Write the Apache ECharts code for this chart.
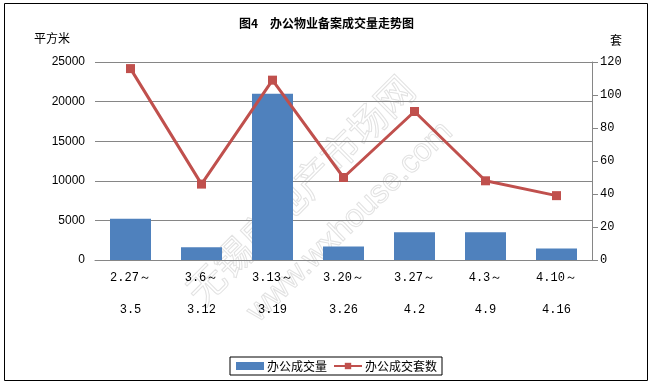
<!DOCTYPE html>
<html>
<head>
<meta charset="utf-8">
<script src="https://cdn.jsdelivr.net/npm/echarts@6/dist/echarts.min.js"></script>
<style>
html,body{margin:0;padding:0;background:#fff;}
#chart{width:653px;height:384px;}
</style>
</head>
<body>
<div id="chart"></div>
<script>
const title = '图4\u3000办公物业备案成交量走势图';
const periodStart = ['2.27～','3.6～','3.13～','3.20～','3.27～','4.3～','4.10～'];
const periodEnd = ['3.5','3.12','3.19','3.26','4.2','4.9','4.16'];
const areaValues = [5200, 1600, 21000, 1700, 3500, 3500, 1450];
const unitValues = [116, 46, 109, 50, 90, 48, 39];
const leftTicks = {min: 0, max: 25000, interval: 5000};
const rightTicks = {min: 0, max: 120, interval: 20};
const seriesNames = ['办公成交量', '办公成交套数'];
const axisNames = ['平方米', '套'];

const categories = periodStart.map((s, i) => s + '\n' + periodEnd[i]);
const chart = echarts.init(document.getElementById('chart'), null, {renderer: 'canvas'});
const gray = '#868686';
const cjk = '"Noto Sans CJK SC", "Noto Sans", sans-serif';

chart.setOption({
  backgroundColor: '#ffffff',
  animation: false,
  title: {
    text: title,
    left: 'center',
    top: 12,
    textStyle: {fontSize: 12, fontWeight: 'bold', color: '#000', fontFamily: cjk}
  },
  graphic: [
    {type: 'rect', shape: {x: 4.5, y: 3.5, width: 643, height: 377}, style: {fill: 'none', stroke: '#000', lineWidth: 1}, z: 100, silent: true},
    {type: 'text', x: 300, y: 190, rotation: Math.PI / 4, z: -1, silent: true,
     style: {text: '无锡房地产市场网', fontSize: 38, fontFamily: cjk, fill: 'rgba(0,0,0,0)', stroke: '#e2e2e2', lineWidth: 1, align: 'center', verticalAlign: 'middle'}},
    {type: 'text', x: 350, y: 222, rotation: Math.PI * 0.245, z: -1, silent: true,
     style: {text: 'www.wxhouse.com', fontSize: 32, fontFamily: '"Liberation Sans", sans-serif', fill: 'rgba(0,0,0,0)', stroke: '#e2e2e2', lineWidth: 1, align: 'center', verticalAlign: 'middle'}}
  ],
  grid: {left: 95, top: 62, width: 497, height: 198, containLabel: false},
  legend: {
    left: 230,
    top: 357,
    padding: [3, 5, 3, 6],
    itemGap: 6,
    itemWidth: 28,
    itemHeight: 8,
    borderColor: '#000',
    borderWidth: 1,
    textStyle: {fontSize: 12, color: '#000', fontFamily: cjk, padding: [0, 0, 0, -2]},
    data: [
      {name: seriesNames[0], icon: 'rect'},
      {name: seriesNames[1]}
    ]
  },
  xAxis: {
    type: 'category',
    data: categories,
    axisLine: {show: true, lineStyle: {color: gray, width: 1}},
    axisTick: {show: false},
    axisLabel: {
      interval: 0,
      margin: 2,
      lineHeight: 32,
      fontSize: 12,
      color: '#000',
      fontFamily: '"Liberation Mono", "DejaVu Sans Mono", monospace'
    },
    splitLine: {show: false}
  },
  yAxis: [
    {
      type: 'value',
      min: leftTicks.min,
      max: leftTicks.max,
      interval: leftTicks.interval,
      name: axisNames[0],
      nameLocation: 'end',
      nameGap: 24,
      nameTextStyle: {align: 'right', verticalAlign: 'middle', padding: [0, 25, 0, 0], fontSize: 12, color: '#000', fontFamily: cjk},
      axisLine: {show: false},
      axisTick: {show: false},
      axisLabel: {margin: 10, fontSize: 12, color: '#000', fontFamily: '"Liberation Sans", Arial, sans-serif', formatter: (v) => String(v)},
      splitLine: {show: true, lineStyle: {color: gray, width: 1}}
    },
    {
      type: 'value',
      position: 'right',
      min: rightTicks.min,
      max: rightTicks.max,
      interval: rightTicks.interval,
      name: axisNames[1],
      nameLocation: 'end',
      nameGap: 22,
      nameTextStyle: {align: 'left', verticalAlign: 'middle', padding: [0, 0, 0, 18], fontSize: 12, color: '#000', fontFamily: cjk},
      axisLine: {show: true, lineStyle: {color: gray, width: 1}},
      axisTick: {show: true, length: 6, lineStyle: {color: gray}},
      axisLabel: {margin: 8, fontSize: 12, color: '#000', fontFamily: '"Liberation Mono", "DejaVu Sans Mono", monospace'},
      splitLine: {show: false}
    }
  ],
  series: [
    {
      name: seriesNames[0],
      type: 'bar',
      yAxisIndex: 0,
      data: areaValues,
      barWidth: 41,
      itemStyle: {color: '#4F81BD'},
      z: 2
    },
    {
      name: seriesNames[1],
      type: 'line',
      yAxisIndex: 1,
      data: unitValues,
      symbol: 'rect',
      symbolSize: 9,
      lineStyle: {color: '#C0504D', width: 3},
      itemStyle: {color: '#C0504D'},
      z: 3
    }
  ]
});
</script>
</body>
</html>
